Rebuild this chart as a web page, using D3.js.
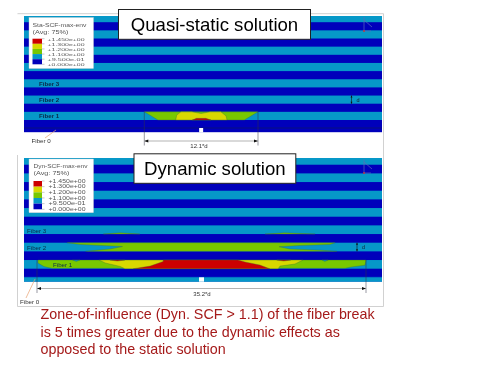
<!DOCTYPE html>
<html><head><meta charset="utf-8">
<script src="https://cdn.jsdelivr.net/npm/d3@7"></script>
<style>html,body{margin:0;padding:0;background:#fff}svg{display:block;font-family:"Liberation Sans",Arial,sans-serif}</style>
</head><body><svg id="c" width="500" height="367"></svg>
<script>
// Contour values: colour scale legend
const legendLabels = ["+1.450e+00","+1.300e+00","+1.200e+00","+1.100e+00","+9.500e-01","+0.000e+00"];
const legendColors = ["#cc0000","#d8d800","#78c800","#0698c8","#0000bb"];
// Layers: x in fibre diameters from the break, y in fibre pitches above the base of fibre 1
const staticFibers = [1,2,3,4,5,6,7];
const dynamicFibers = [0,1,2,3,4,5,6,7];
const staticGreen = [[-6.05,.5],[-4.6,0],[4.6,0],[6.05,.5]];
const staticYellow = [[-2.7,0],[-2.6,.3],[-2.15,.5],[-1,.5],[0,.4],[.95,.5],[2.1,.5],[2.65,.25],[2.75,0]];
const staticRed = [[-.95,0],[-.5,.1],[.5,.1],[1.05,0]];
const dynGreen1 = [[-17.5,.5],[-17.5,.33],[-16.85,.12],[-16,.02],[15.35,.02],[16.05,.1],[17.5,.2],[17.6,.5]];
const dynYellow1 = [[-10.95,.5],[-10.3,.33],[-8.7,.13],[-8.2,0],[8.2,0],[8.4,.15],[10,.27],[10.85,.5]];
const dynRed1 = [[-7.3,0],[-5.5,.15],[-4.1,.42],[-4.1,.5],[3.9,.5],[4.65,.39],[6.25,.21],[7.3,0]];
const dynRedBlobL = [[-9.8,.5],[-9,.44],[-8.2,.5]];
const dynRedBlobR = [[8.05,.5],[8.8,.44],[9.55,.5]];
const dynNotchL = [[-13.8,.5],[-13.4,.42],[-13,.5]];
const dynNotchR = [[12.9,.5],[13.2,.42],[13.55,.5]];
const dynGreen2 = [[-14.4,1.5],[-13,1.4],[-8.45,1.28],[-9.8,1.14],[-12.4,1],[14.5,1],[12.7,1.07],[9.45,1.14],[8.3,1.27],[10.55,1.34],[13.75,1.4],[14.3,1.5]];
const dynSliverL = [[-10.5,2],[-8.7,2.07],[-6.6,2]];
const dynSliverR = [[6.8,2],[8.9,2.07],[12.15,2]];
const noteLines = ["Zone-of-influence (Dyn. SCF > 1.1) of the fiber break","is 5 times greater due to the dynamic effects as","opposed to the static solution"];

const svg = d3.select("#c");
const root = svg.append("g").style("filter","blur(0.4px)");
const C = {light:legendColors[3],dark:legendColors[4],green:legendColors[2],yellow:legendColors[1],red:legendColors[0]};
const line = d3.line();

function panel(o){
  const x = d3.scaleLinear().domain([-o.span/2,o.span/2]).range(o.xr);
  const y = d3.scaleLinear().domain([0,1]).range(o.yr);
  const id = "clip"+o.id;
  root.append("clipPath").attr("id",id).append("rect").attr("x",24).attr("y",o.top).attr("width",358).attr("height",o.bottom-o.top);
  const g = root.append("g");
  const p = g.append("g").attr("clip-path",`url(#${id})`);
  p.append("rect").attr("x",24).attr("y",o.top).attr("width",358).attr("height",o.bottom-o.top).attr("fill",C.dark);
  p.selectAll("rect.f").data(o.fibers).join("rect").attr("class","f")
    .attr("x",24).attr("width",358).attr("y",f=>y(f-0.5)).attr("height",f=>y(f-1)-y(f-0.5)).attr("fill",C.light);
  o.shapes.forEach(s=>{
    p.append("path").attr("d",line(s.pts.map(d=>[x(d[0]),y(d[1])]))+"Z").attr("fill",s.c)
     .attr("stroke","#3a6a3a").attr("stroke-width",.35);
  });
  // break + base line
  g.append("line").attr("x1",24).attr("x2",382).attr("y1",o.baseY).attr("y2",o.baseY).attr("stroke",o.baseColor).attr("stroke-width",.5);
  g.append("rect").attr("x",x(0)-o.bw/2).attr("width",o.bw).attr("y",o.breakTop).attr("height",o.bottom-o.breakTop).attr("fill","#fff");
  // dimension
  const ex = o.xr;
  ex.forEach(v=>g.append("line").attr("x1",v).attr("x2",v).attr("y1",y(.5)).attr("y2",o.dimY+4.5).attr("stroke","#334").attr("stroke-width",.5));
  g.append("line").attr("x1",ex[0]).attr("x2",ex[1]).attr("y1",o.dimY).attr("y2",o.dimY).attr("stroke","#aaa").attr("stroke-width",.9);
  g.append("path").attr("d",`M${ex[0]},${o.dimY}l4,-1.5v3Z M${ex[1]},${o.dimY}l-4,-1.5v3Z`).attr("fill","#111");
  g.append("text").attr("x",o.dimTextX).attr("y",o.dimY+7).attr("text-anchor","middle").attr("font-size",6).attr("fill","#333").text(o.dimLabel);
  // d marker
  const dy0=y(1.5), dy1=y(1);
  g.append("line").attr("x1",o.dX).attr("x2",o.dX).attr("y1",dy0).attr("y2",dy1).attr("stroke","#111").attr("stroke-width",.6);
  g.append("path").attr("d",`M${o.dX},${dy0}l-1,2h2Z M${o.dX},${dy1}l-1,-2h2Z`).attr("fill","#111");
  g.append("text").attr("x",o.dX+5).attr("y",(dy0+dy1)/2+2).attr("font-size",5.5).attr("fill","#123").text("d");
  // triad
  const t=o.triad;
  g.append("path").attr("d",`M${t},${o.top+1}V${o.top+15}M${t},${o.top+15}h7M${t},${o.top+4}L${t+8},${o.top+11}`).attr("fill","none").attr("stroke","#5a6ab8").attr("stroke-width",.7);
  g.append("circle").attr("cx",t).attr("cy",o.top+15).attr("r",.9).attr("fill","#d03030");
  // fibre labels
  o.labels.forEach(l=>g.append("text").attr("x",l[1]).attr("y",l[2]).attr("font-size",6.2).attr("fill",l[3]||"#0a2a4a").attr("font-weight",l[4]||"normal").text(l[0]));
  g.append("path").attr("d",o.leader).attr("stroke","#e8a070").attr("stroke-width",.7).attr("fill","none");
  // legend
  const L=o.legend;
  g.append("rect").attr("x",29).attr("y",L.top).attr("width",64.5).attr("height",L.h).attr("fill","#fff").attr("stroke","#ccc").attr("stroke-width",.4);
  g.append("text").attr("x",L.tx).attr("y",L.top+9).attr("font-size",6).attr("fill","#555")
    .attr("textLength",54).attr("lengthAdjust","spacingAndGlyphs").text(o.legendTitle);
  g.append("text").attr("x",L.tx).attr("y",L.top+16).attr("font-size",6).attr("fill","#555")
    .attr("textLength",36).attr("lengthAdjust","spacingAndGlyphs").text("(Avg: 75%)");
  const ls=d3.scaleLinear().domain([0,5]).range([L.s0,L.s1]);
  g.selectAll("rect.sw").data(legendColors).join("rect").attr("class","sw")
    .attr("x",L.sx).attr("width",42-L.sx).attr("y",(d,i)=>ls(i)).attr("height",(d,i)=>ls(i+1)-ls(i)).attr("fill",d=>d);
  g.selectAll("text.ll").data(legendLabels).join("text").attr("class","ll")
    .attr("x",L.lx).attr("y",(d,i)=>ls(i)+1.8).attr("font-size",L.fs).attr("fill","#555")
    .attr("textLength",37).attr("lengthAdjust","spacingAndGlyphs").text(d=>d);
  g.selectAll("line.tk").data(legendLabels).join("line").attr("class","tk")
    .attr("x1",42).attr("x2",44.5).attr("y1",(d,i)=>ls(i)).attr("y2",(d,i)=>ls(i)).attr("stroke","#777").attr("stroke-width",.4);
  // title
  root.append("rect").attr("x",o.box[0]).attr("y",o.box[1]).attr("width",o.box[2]).attr("height",o.box[3]).attr("fill","#fff").attr("stroke","#222").attr("stroke-width",1);
  root.append("text").attr("x",o.box[0]+o.box[2]/2).attr("y",o.box[1]+o.box[3]/2+6.5).attr("text-anchor","middle").attr("font-size",18.6).attr("fill","#000").text(o.title);
}

// frame
root.append("path").attr("d","M17.5,13.7H383.5V306.5H17.5V155").attr("fill","none").attr("stroke","#ccc").attr("stroke-width",.9);

panel({id:"s",span:12.1,xr:[144.3,258],yr:[120,103.7],top:16,bottom:132.4,fibers:staticFibers,
  shapes:[{pts:staticGreen,c:C.green},{pts:staticYellow,c:C.yellow},{pts:staticRed,c:C.red}],
  baseY:128,baseColor:"#102040",bw:4,breakTop:128,dimY:141,dimTextX:199,dimLabel:"12.1*d",dX:351.5,triad:364,
  labels:[["Fiber 3",39,86,null,"bold"],["Fiber 2",39,102,null,"bold"],["Fiber 1",39,117.5,null,"bold"],["Fiber 0",31.5,143,"#333"]],
  leader:"M45,138L56,130",
  legend:{top:17.5,h:51,tx:32.5,sx:32.5,s0:38.7,s1:64.3,lx:47.5,fs:4.3},legendTitle:"Sta-SCF-max-env",
  box:[118.5,9.5,192,29.8],title:"Quasi-static solution"});

panel({id:"d",span:35.2,xr:[37,366],yr:[268.7,251.37],top:158,bottom:281.7,fibers:dynamicFibers,
  shapes:[{pts:dynGreen2,c:C.green},{pts:dynSliverL,c:C.green},{pts:dynSliverR,c:C.green},
    {pts:dynGreen1,c:C.green},{pts:dynYellow1,c:C.yellow},{pts:dynRed1,c:C.red},
    {pts:dynRedBlobL,c:C.red},{pts:dynRedBlobR,c:C.red},{pts:dynNotchL,c:C.light},{pts:dynNotchR,c:C.light}],
  baseY:277.3,baseColor:"#0698c8",bw:5,breakTop:277.3,dimY:288.5,dimTextX:202,dimLabel:"35.2*d",dX:357,triad:364,
  labels:[["Fiber 3",27,232.5],["Fiber 2",27,249.5],["Fiber 1",53,267],["Fiber 0",20,303.5,"#333"]],
  leader:"M26,298L35,279",
  legend:{top:159,h:53.7,tx:33.5,sx:33.5,s0:181,s1:209.3,lx:48.5,fs:4.8},legendTitle:"Dyn-SCF-max-env",
  box:[134,153.8,161.8,29.5],title:"Dynamic solution"});

root.selectAll("text.note").data(noteLines).join("text").attr("class","note")
  .attr("x",40.5).attr("y",(d,i)=>319+i*17.5).attr("font-size",14.3).attr("fill","#a51a1a").text(d=>d);
</script></body></html>
